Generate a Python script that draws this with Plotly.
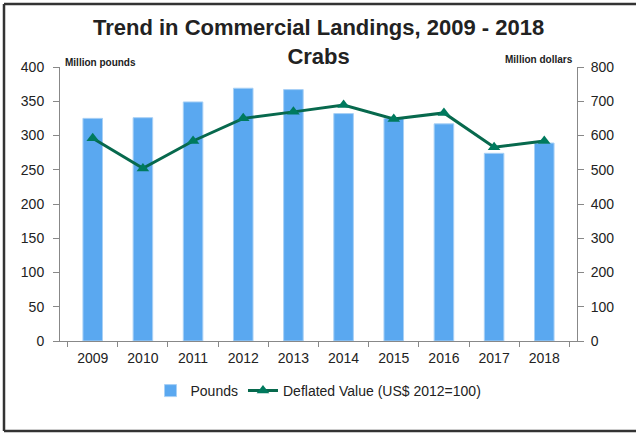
import plotly.graph_objects as go

years = ["2009", "2010", "2011", "2012", "2013", "2014", "2015", "2016", "2017", "2018"]
pounds = [325, 326, 349, 369, 367, 332, 325, 317, 274, 289]
deflated_value = [592, 504, 584, 650, 669, 689, 648, 666, 566, 584]

W, H = 636, 434
L, R, T, B = 60, 59, 67, 93
pw, ph = W - L - R, H - T - B

def px_x(p):
    return (p - L) / pw

def px_y(p):
    return (H - B - p) / ph

font_fam = "Liberation Sans, Arial, sans-serif"
txt = "#222222"

fig = go.Figure()
fig.add_trace(go.Bar(
    x=years, y=pounds, name="Pounds",
    marker=dict(color="#5AA8F0", line=dict(color="#A8D0F5", width=1)),
    yaxis="y",
))
fig.add_trace(go.Scatter(
    x=years, y=deflated_value, name="Deflated Value (US$ 2012=100)",
    mode="lines+markers",
    line=dict(color="#07694D", width=3),
    marker=dict(symbol="triangle-up", size=11, color="#007A5E"),
    yaxis="y2",
))

border = dict(color="#333333", width=2.5)
fig.update_layout(
    width=W, height=H, autosize=False,
    margin=dict(l=L, r=R, t=T, b=B, autoexpand=False),
    paper_bgcolor="white", plot_bgcolor="white",
    font=dict(family=font_fam, size=14, color=txt),
    bargap=0.61,
    showlegend=True,
    xaxis=dict(
        type="category", tickson="boundaries", ticks="outside", ticklen=5,
        tickcolor="#888888", showline=True, linecolor="#888888", linewidth=1,
        showgrid=False, tickfont=dict(size=14, color=txt), automargin=False,
        ticklabelstandoff=4,
    ),
    yaxis=dict(
        range=[0, 400], dtick=50, ticks="outside", ticklen=6, tickcolor="#888888",
        showline=True, linecolor="#888888", linewidth=1, showgrid=False,
        zeroline=False, tickfont=dict(size=14, color=txt), automargin=False,
        ticklabelstandoff=6,
    ),
    yaxis2=dict(
        range=[0, 800], dtick=100, overlaying="y", side="right",
        ticks="outside", ticklen=6, tickcolor="#888888",
        showline=True, linecolor="#888888", linewidth=1, showgrid=False,
        zeroline=False, tickfont=dict(size=14, color=txt), automargin=False,
        ticklabelstandoff=4,
    ),
    legend=dict(
        orientation="h", x=0.5, xanchor="center", y=px_y(391), yanchor="middle",
        font=dict(size=14, color=txt), bgcolor="rgba(0,0,0,0)",
        itemwidth=30, tracegroupgap=0,
    ),
    annotations=[
        dict(text="<b>Trend in Commercial Landings, 2009 - 2018<br>Crabs</b>",
             x=0.5, y=px_y(13), xref="paper", yref="paper",
             xanchor="center", yanchor="top", showarrow=False,
             font=dict(size=22, color=txt, family=font_fam)),
        dict(text="<b>Million pounds</b>", x=px_x(63), y=px_y(62), xref="paper", yref="paper",
             xanchor="left", yanchor="middle", showarrow=False,
             font=dict(size=10, color=txt, family=font_fam)),
        dict(text="<b>Million dollars</b>", x=px_x(575), y=px_y(60), xref="paper", yref="paper",
             xanchor="right", yanchor="middle", showarrow=False,
             font=dict(size=10, color=txt, family=font_fam)),
    ],
    shapes=[
        dict(type="line", xref="paper", yref="paper",
             x0=px_x(4), x1=px_x(640), y0=px_y(4), y1=px_y(4), line=border, layer="below"),
        dict(type="line", xref="paper", yref="paper",
             x0=px_x(4), x1=px_x(640), y0=px_y(431), y1=px_y(431), line=border, layer="below"),
        dict(type="line", xref="paper", yref="paper",
             x0=px_x(4), x1=px_x(4), y0=px_y(4), y1=px_y(431), line=border, layer="below"),
    ],
)

fig.write_html("out.html", config={"displayModeBar": False},
               post_script="document.body.style.margin='0px';")
